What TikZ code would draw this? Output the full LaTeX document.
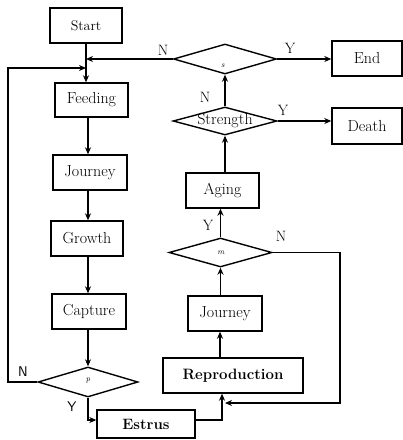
\documentclass[tikz,border=0pt]{standalone}
\usepackage{fontspec}
\usetikzlibrary{shapes.geometric,arrows.meta}
\begin{document}
\begin{tikzpicture}[x=1pt,y=-1pt,
 box/.style={draw,line width=1.4pt,inner sep=0pt,font=\fontsize{16}{18}\selectfont},
 boldbox/.style={box,font=\fontsize{15}{17}\selectfont\bfseries},
 dia/.style={draw,diamond,line width=1.4pt,inner sep=0pt},
 conn/.style={line width=1.4pt,-{Stealth[length=7pt,width=6pt]}},
 lbl/.style={inner sep=0pt,font=\fontsize{15}{17}\selectfont},
 slbl/.style={inner sep=0pt,font=\fontsize{14}{16}\selectfont\sffamily},
 var/.style={inner sep=0pt,font=\fontsize{8}{9}\selectfont\itshape}]
\useasboundingbox (0,0) rectangle (403,440);
% boxes
\node[box,minimum width=72,minimum height=35,font=\fontsize{14}{16}\selectfont] (start) at (86,25.5) {Start};
\node[box,minimum width=73,minimum height=34] (feed) at (91.5,100) {Feeding};
\node[box,minimum width=74,minimum height=35] (jour1) at (90,172.5) {Journey};
\node[box,minimum width=72,minimum height=35] (grow) at (87,238.5) {Growth};
\node[box,minimum width=74,minimum height=35] (capt) at (89,311.5) {Capture};
\node[dia,minimum width=100,minimum height=30] (p) at (88,382) {};
\node[boldbox,minimum width=98,minimum height=28] (estrus) at (146,424) {Estrus};
\node[boldbox,minimum width=140,minimum height=35] (repro) at (233,375.5) {Reproduction};
\node[box,minimum width=74,minimum height=35] (jour2) at (225,313.5) {Journey};
\node[dia,minimum width=103,minimum height=29] (m) at (220.5,252.5) {};
\node[box,minimum width=73,minimum height=35] (aging) at (222.5,190.5) {Aging};
\node[dia,minimum width=104,minimum height=28] (str) at (225,121) {};
\node[dia,minimum width=103,minimum height=30] (s) at (225,59) {};
\node[box,minimum width=70,minimum height=35] (end) at (367,58.5) {End};
\node[box,minimum width=70,minimum height=36] (death) at (367,126) {Death};
% diamond texts
\node[var] (sl) at (223,66) {s};
\node[var] (ml) at (221,253) {m};
\node[var] (pl) at (88,381) {p};
\node[inner sep=0pt,font=\fontsize{16}{18}\selectfont] (strl) at (str) {Strength};
% helper coordinates
\coordinate (spine) at (86,0);
\coordinate (sp2) at (88,0);
\coordinate (lx) at (8,68);
\coordinate (ey) at (0,420);
\coordinate (rx) at (222,0);
\coordinate (jx) at (220,0);
\coordinate (nr) at (340,403);
\coordinate (ra) at (225,403);
% connectors
\draw[conn] (start.south -| spine) -- (feed.north -| spine);
\draw[conn] (s.west) -- (s.west -| spine);
\draw[conn] (p.west) -| (lx) -- (lx -| spine);
\draw[conn] (feed.south -| sp2) -- (jour1.north -| sp2);
\draw[conn] (jour1.south -| sp2) -- (grow.north -| sp2);
\draw[conn] (grow.south -| sp2) -- (capt.north -| sp2);
\draw[conn] (capt.south -| sp2) -- (p.north);
\draw[conn] (p.south) -- (p.south |- ey) -- (estrus.west |- ey);
\draw[conn] (estrus.east |- ey) -| (rx |- repro.south);
\draw[conn] (repro.north -| jx) -- (jour2.south -| jx);
\draw[conn] (jour2.north -| m.south) -- (m.south);
\draw[conn] (m.north) -- (aging.south -| m.north);
\draw[conn] (aging.north -| str.south) -- (str.south);
\draw[conn] (str.north) -- (s.south);
\draw[conn] (str.east) -- (death.west |- str.east);
\draw[conn] (s.east) -- (end.west |- s.east);
\draw[conn] (m.east) -| (nr) -- (ra);
% branch labels
\node[lbl] (n1) at (163,50) {N};
\node[lbl] (y1) at (290,48) {Y};
\node[lbl] (n2) at (205,97) {N};
\node[lbl] (y2) at (283,110) {Y};
\node[lbl] (y3) at (208,225) {Y};
\node[lbl] (n3) at (281,236) {N};
\node[slbl] (n4) at (23,372) {N};
\node[slbl] (y4) at (72,407) {Y};
\end{tikzpicture}
\end{document}
